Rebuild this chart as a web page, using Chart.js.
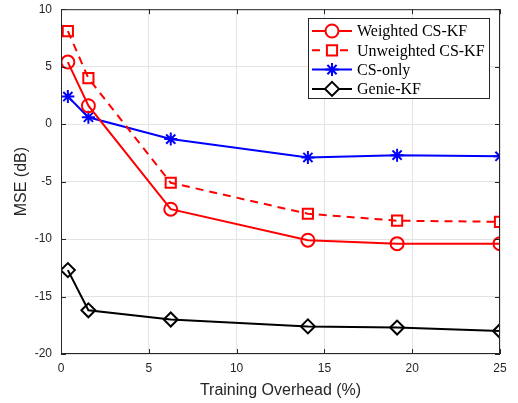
<!DOCTYPE html>
<html><head><meta charset="utf-8">
<script src="https://cdn.jsdelivr.net/npm/chart.js@4/dist/chart.umd.min.js"></script>
<style>html,body{margin:0;padding:0;background:#fff}canvas{display:block}</style>
</head><body>
<canvas id="c" width="518" height="403"></canvas>
<script>
const overhead = [0.39, 1.56, 6.25, 14.06, 19.14, 25];
const weightedCSKF = [5.4, 1.6, -7.4, -10.1, -10.4, -10.4];
const unweightedCSKF = [8.1, 4.0, -5.1, -7.8, -8.4, -8.5];
const csOnly = [2.4, 0.6, -1.3, -2.9, -2.7, -2.8];
const genieKF = [-12.7, -16.2, -17.0, -17.6, -17.7, -18.0];
const xTicks = [0, 5, 10, 15, 20, 25];
const yTicks = [-20, -15, -10, -5, 0, 5, 10];
const seriesNames = ['Weighted CS-KF', 'Unweighted CS-KF', 'CS-only', 'Genie-KF'];

const pts = arr => arr.map((v, i) => ({x: overhead[i], y: v}));

const datasets = [
  {label: seriesNames[0], data: pts(weightedCSKF), borderColor: '#ff0000', pointStyle: 'circle', pointRadius: 6.5, borderDash: []},
  {label: seriesNames[1], data: pts(unweightedCSKF), borderColor: '#ff0000', pointStyle: 'rect', pointRadius: 7.2, borderDash: [8, 6]},
  {label: seriesNames[2], data: pts(csOnly), borderColor: '#0000ff', pointStyle: 'star', pointRadius: 6.5, borderDash: []},
  {label: seriesNames[3], data: pts(genieKF), borderColor: '#000000', pointStyle: 'rectRot', pointRadius: 7, borderDash: []}
].map(d => Object.assign(d, {
  backgroundColor: 'rgba(0,0,0,0)', pointBackgroundColor: 'rgba(255,255,255,0)', pointBorderColor: d.borderColor,
  pointBorderWidth: 2, borderWidth: 2, tension: 0, fill: false, pointHoverRadius: d.pointRadius
}));

const boxPlugin = {
  id: 'box',
  afterDraw(chart) {
    const {ctx, chartArea: a, scales: {x, y}} = chart;
    ctx.save();
    ctx.strokeStyle = '#262626';
    ctx.lineWidth = 1;
    ctx.strokeRect(a.left + 0.5, a.top + 0.5, a.right - a.left - 1, a.bottom - a.top - 1);
    ctx.beginPath();
    const tl = 5;
    xTicks.forEach(t => {
      const px = Math.round(x.getPixelForValue(t)) + 0.5;
      ctx.moveTo(px, a.bottom); ctx.lineTo(px, a.bottom - tl);
      ctx.moveTo(px, a.top); ctx.lineTo(px, a.top + tl);
    });
    yTicks.forEach(t => {
      const py = Math.round(y.getPixelForValue(t)) + 0.5;
      ctx.moveTo(a.left, py); ctx.lineTo(a.left + tl, py);
      ctx.moveTo(a.right, py); ctx.lineTo(a.right - tl, py);
    });
    ctx.stroke();

    // legend
    const lx = 308, ly = 18, lw = 181, lh = 80;
    ctx.fillStyle = '#fff';
    ctx.fillRect(lx, ly, lw, lh);
    ctx.strokeStyle = '#262626';
    ctx.strokeRect(lx + 0.5, ly + 0.5, lw, lh);
    ctx.font = '16px "Liberation Serif", "Times New Roman", serif';
    ctx.textBaseline = 'middle';
    chart.data.datasets.forEach((d, i) => {
      const cy = 31 + i * 19.3;
      ctx.save();
      ctx.strokeStyle = d.borderColor;
      ctx.fillStyle = '#ffffff';
      ctx.lineWidth = 2;
      ctx.setLineDash(d.borderDash);
      ctx.beginPath(); ctx.moveTo(312, cy); ctx.lineTo(352, cy); ctx.stroke();
      ctx.setLineDash([]);
      Chart.helpers.drawPoint(ctx, {pointStyle: d.pointStyle, radius: d.pointRadius, borderWidth: 2, rotation: 0}, 332, cy);
      ctx.restore();
      ctx.fillStyle = '#000000';
      ctx.fillText(d.label, 357, cy + 1);
    });
    ctx.restore();
  }
};

new Chart(document.getElementById('c'), {
  type: 'line',
  data: {datasets},
  options: {
    responsive: false, animation: false,
    layout: {padding: {left: 0, right: 18, top: 8, bottom: 0}},
    plugins: {legend: {display: false}, tooltip: {enabled: false}},
    scales: {
      x: {
        type: 'linear', min: 0, max: 25,
        afterFit(s) { s.height = 49; s.paddingLeft = 0; s.paddingRight = 0; },
        afterBuildTicks(s) { s.ticks = xTicks.map(v => ({value: v})); },
        grid: {color: '#e3e3e3', drawTicks: false},
        border: {display: false},
        ticks: {color: '#262626', font: {family: '"Liberation Sans", Arial, sans-serif', size: 12}, padding: 7, maxRotation: 0},
        title: {display: true, text: 'Training Overhead (%)', color: '#262626', font: {family: '"Liberation Sans", Arial, sans-serif', size: 16}, padding: {top: 0, bottom: 3}}
      },
      y: {
        type: 'linear', min: -20, max: 10,
        afterFit(s) { s.width = 61; s.paddingTop = 0; s.paddingBottom = 0; },
        afterBuildTicks(s) { s.ticks = yTicks.map(v => ({value: v})); },
        grid: {color: '#e3e3e3', drawTicks: false},
        border: {display: false},
        ticks: {color: '#262626', font: {family: '"Liberation Sans", Arial, sans-serif', size: 12}, padding: 9},
        title: {display: true, text: 'MSE (dB)', color: '#262626', font: {family: '"Liberation Sans", Arial, sans-serif', size: 16}, padding: {top: 12, bottom: 0}}
      }
    }
  },
  plugins: [boxPlugin]
});
</script>
</body></html>
